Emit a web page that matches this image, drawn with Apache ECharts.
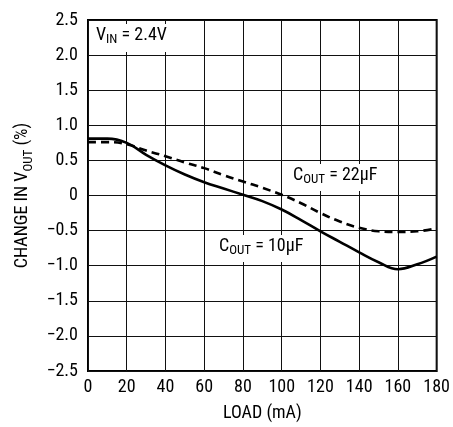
<!DOCTYPE html>
<html><head><meta charset="utf-8">
<script src="https://cdn.jsdelivr.net/npm/echarts@6/dist/echarts.min.js"></script>
<style>html,body{margin:0;padding:0;background:#fff}#c{width:453px;height:427px}</style>
</head><body><div id="c"></div>
<script>
var loads = [0,10,20,30,40,50,60,70,80,90,100,110,120,130,140,150,160,170,180];
var cout10 = [0.81,0.81,0.75,0.58,0.43,0.30,0.19,0.10,0.01,-0.08,-0.20,-0.35,-0.51,-0.66,-0.81,-0.95,-1.05,-0.98,-0.87];
var cout22 = [0.76,0.76,0.73,0.64,0.56,0.47,0.39,0.29,0.20,0.11,0.01,-0.11,-0.25,-0.37,-0.46,-0.51,-0.52,-0.51,-0.47];
var xTicks = [0,20,40,60,80,100,120,140,160,180];
var yTicks = [-2.5,-2.0,-1.5,-1.0,-0.5,0,0.5,1.0,1.5,2.0,2.5];

var FF = '"Liberation Sans Narrow","Roboto Condensed","Arial Narrow",sans-serif';
function pairs(xs, ys){ return xs.map(function(x,i){return [x, ys[i]];}); }
function fmtY(v){ if (Math.abs(v) < 1e-9) return '0'; var s = Math.abs(v).toFixed(1); return (v<0?'\u2212':'') + s; }

var FS = 18, SS = 13;
var chart = echarts.init(document.getElementById('c'));
var sub = {fontFamily: FF, fontSize: SS, color:'#000', verticalAlign:'bottom', padding:[0,0,-4,0]};
var rich = {a:{fontFamily:FF,fontSize:FS,fill:'#000'}, s:{fontFamily:FF,fontSize:SS,fill:'#000',padding:[9,0,0,0]}};
chart.setOption({
  animation:false,
  grid:{left:88, right:13, top:20, bottom:55, show:true, borderColor:'#000', borderWidth:2},
  xAxis:{type:'value', min:0, max:180, interval:20,
    axisLine:{show:false}, axisTick:{show:false},
    splitLine:{show:true, lineStyle:{color:'#111', width:1}},
    axisLabel:{fontFamily:FF, fontSize:FS, color:'#000', margin:7},
    name:'LOAD (mA)', nameLocation:'middle', nameGap:33,
    nameTextStyle:{fontFamily:FF, fontSize:FS, color:'#000'}},
  yAxis:{type:'value', min:-2.5, max:2.5, interval:0.5,
    axisLine:{show:false}, axisTick:{show:false},
    splitLine:{show:true, lineStyle:{color:'#111', width:1}},
    axisLabel:{fontFamily:FF, fontSize:FS, color:'#000', margin:10, formatter:fmtY},
    name:'{a|CHANGE IN V}{s|OUT}{a| (%)}', nameLocation:'middle', nameGap:55,
    nameTextStyle:{rich:{a:{fontFamily:FF, fontSize:FS, color:'#000'}, s:sub}}},
  series:[
    {type:'line', data:pairs(loads,cout10), smooth:0.4, symbol:'none',
      lineStyle:{color:'#000', width:2.6}},
    {type:'line', data:pairs(loads,cout22), smooth:0.4, symbol:'none',
      lineStyle:{color:'#000', width:2.6, type:[8,5]}}
  ],
  graphic:[
    {type:'text', left:281, top:-19, z:11, style:{text:'Load Regulation', font:'bold 20px ' + FF, fill:'#000'}},
    {type:'rect', left:90, top:24, shape:{width:84, height:28}, style:{fill:'#fff'}, z:10},
    {type:'text', left:96, top:26, z:11, style:{rich:rich, text:'{a|V}{s|IN}{a| = 2.4V}'}},
    {type:'rect', left:289, top:164, shape:{width:100, height:27}, style:{fill:'#fff'}, z:10},
    {type:'text', left:293, top:166, z:11, style:{rich:rich, text:'{a|C}{s|OUT}{a| = 22\u03bcF}'}},
    {type:'rect', left:215, top:235, shape:{width:100, height:27}, style:{fill:'#fff'}, z:10},
    {type:'text', left:219, top:237, z:11, style:{rich:rich, text:'{a|C}{s|OUT}{a| = 10\u03bcF}'}}
  ]
});
</script></body></html>
